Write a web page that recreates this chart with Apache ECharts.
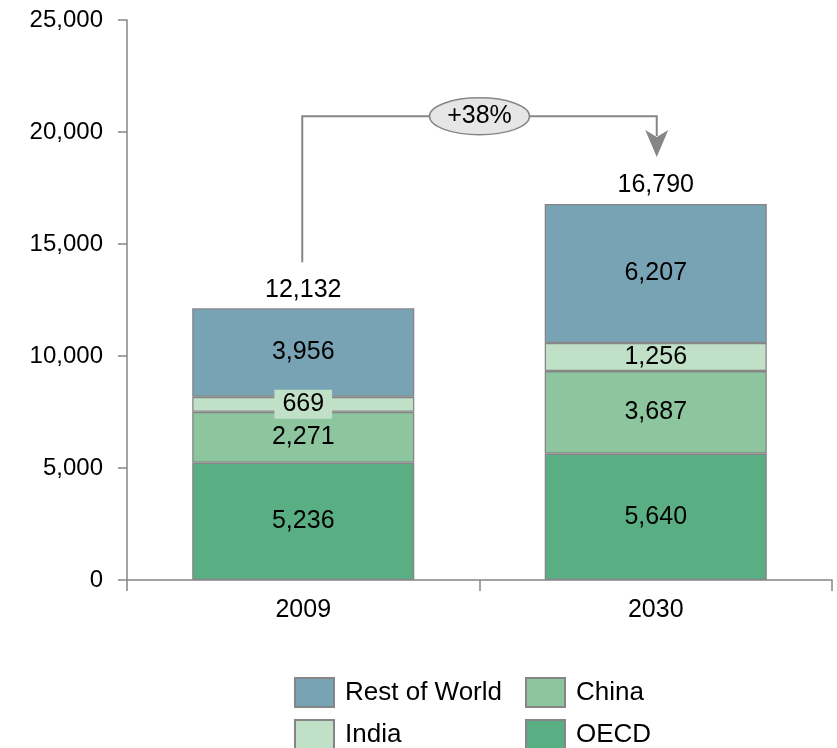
<!DOCTYPE html>
<html>
<head>
<meta charset="utf-8">
<script src="https://cdn.jsdelivr.net/npm/echarts@6/dist/echarts.min.js"></script>
<style>
  html, body { margin: 0; padding: 0; background: #fff; }
  #chart { width: 837px; height: 748px; }
</style>
</head>
<body>
<div id="chart"></div>
<script>
// Energy demand by region, 2009 vs 2030
const years = ['2009', '2030'];
const oecd = [5236, 5640];
const china = [2271, 3687];
const india = [669, 1256];
const restOfWorld = [3956, 6207];
const totals = years.map((_, i) => oecd[i] + china[i] + india[i] + restOfWorld[i]);

const FONT = "'Liberation Sans', Arial, sans-serif";
const COLORS = {
  oecd: '#5aae83',
  china: '#8dc59f',
  india: '#c0e0c8',
  row: '#78a3b4'
};
const GRAY = '#868686';

const fmt = v => Math.round(v).toLocaleString('en-US');

const chart = echarts.init(document.getElementById('chart'), null, { renderer: 'canvas' });

function barSeries(name, values, color) {
  return {
    name: name,
    type: 'bar',
    stack: 'total',
    barWidth: '63%',
    data: values,
    itemStyle: { color: color, borderColor: GRAY, borderWidth: 1.3 },
    label: {
      show: true,
      position: 'inside',
      color: '#000',
      fontFamily: FONT,
      fontSize: 25,
      formatter: p => fmt(p.value)
    }
  };
}

// one legend box per entry, laid out as a 2 x 2 block
function legendItem(name, left, top) {
  return {
    left: left, top: top, padding: 0,
    icon: 'rect',
    itemWidth: 39, itemHeight: 29,
    data: [name],
    textStyle: { fontFamily: FONT, fontSize: 26, color: '#000', padding: [0, 0, 0, 6] }
  };
}

const option = {
  animation: false,
  backgroundColor: '#fff',
  textStyle: { fontFamily: FONT },
  grid: { left: 127, right: 5, top: 20, bottom: 168 },
  legend: [
    legendItem('Rest of World', 294, 677),
    legendItem('China', 525, 677),
    legendItem('India', 294, 719),
    legendItem('OECD', 525, 719)
  ],
  xAxis: {
    type: 'category',
    data: years,
    axisLine: { lineStyle: { color: GRAY, width: 1.5 } },
    axisTick: { show: true, length: 11, lineStyle: { color: GRAY, width: 1.5 } },
    axisLabel: { color: '#000', fontFamily: FONT, fontSize: 25, margin: 18 }
  },
  yAxis: {
    type: 'value',
    min: 0, max: 25000, interval: 5000,
    splitLine: { show: false },
    axisLine: { show: true, lineStyle: { color: GRAY, width: 1.5 } },
    axisTick: { show: true, length: 9, lineStyle: { color: GRAY, width: 1.5 } },
    axisLabel: { color: '#000', fontFamily: FONT, fontSize: 24, margin: 24, formatter: v => fmt(v) }
  },
  series: [
    barSeries('OECD', oecd, COLORS.oecd),
    barSeries('China', china, COLORS.china),
    barSeries('India', india.map(v => v < 1000 ? {
      value: v,
      label: { backgroundColor: COLORS.india, padding: [3, 8, 1, 8] }
    } : v), COLORS.india),
    barSeries('Rest of World', restOfWorld, COLORS.row),
    {
      // zero-height cap carrying the stack total above each bar
      name: 'Total',
      type: 'bar',
      stack: 'total',
      barWidth: '63%',
      data: totals.map(() => 0),
      itemStyle: { color: 'transparent', borderWidth: 0 },
      label: {
        show: true,
        position: 'top',
        distance: 6,
        color: '#000',
        fontFamily: FONT,
        fontSize: 25,
        formatter: p => fmt(totals[p.dataIndex])
      },
      tooltip: { show: false }
    }
  ]
};

chart.setOption(option);

// Growth connector from the 2009 total to the 2030 total
const growth = Math.round((totals[1] / totals[0] - 1) * 100);
const p0 = chart.convertToPixel({ gridIndex: 0 }, [0, totals[0]]);
const p1 = chart.convertToPixel({ gridIndex: 0 }, [1, totals[1]]);
const topY = chart.convertToPixel({ gridIndex: 0 }, [0, 20700])[1];
const x0 = p0[0] - 1;
const x1 = p1[0] + 1;
const startY = p0[1] - 46;
const tipY = p1[1] - 47;
const arrowLen = 27;
const midX = (x0 + x1) / 2;

chart.setOption({
  graphic: [
    {
      type: 'polyline',
      shape: { points: [[x0, startY], [x0, topY], [x1, topY], [x1, tipY - arrowLen + 6]] },
      style: { stroke: GRAY, lineWidth: 2, fill: null },
      silent: true
    },
    {
      type: 'polygon',
      shape: {
        points: [
          [x1 - 11.5, tipY - arrowLen],
          [x1, tipY - arrowLen + 7],
          [x1 + 11.5, tipY - arrowLen],
          [x1, tipY]
        ]
      },
      style: { fill: GRAY, stroke: null },
      silent: true
    },
    {
      type: 'ellipse',
      shape: { cx: midX, cy: topY, rx: 50, ry: 18.5 },
      style: { fill: '#e6e6e6', stroke: GRAY, lineWidth: 1.5 },
      silent: true
    },
    {
      type: 'text',
      x: midX,
      y: topY,
      style: {
        text: '+' + growth + '%',
        fill: '#000',
        font: '25px ' + FONT,
        align: 'center',
        verticalAlign: 'middle'
      },
      silent: true
    }
  ]
});
</script>
</body>
</html>
